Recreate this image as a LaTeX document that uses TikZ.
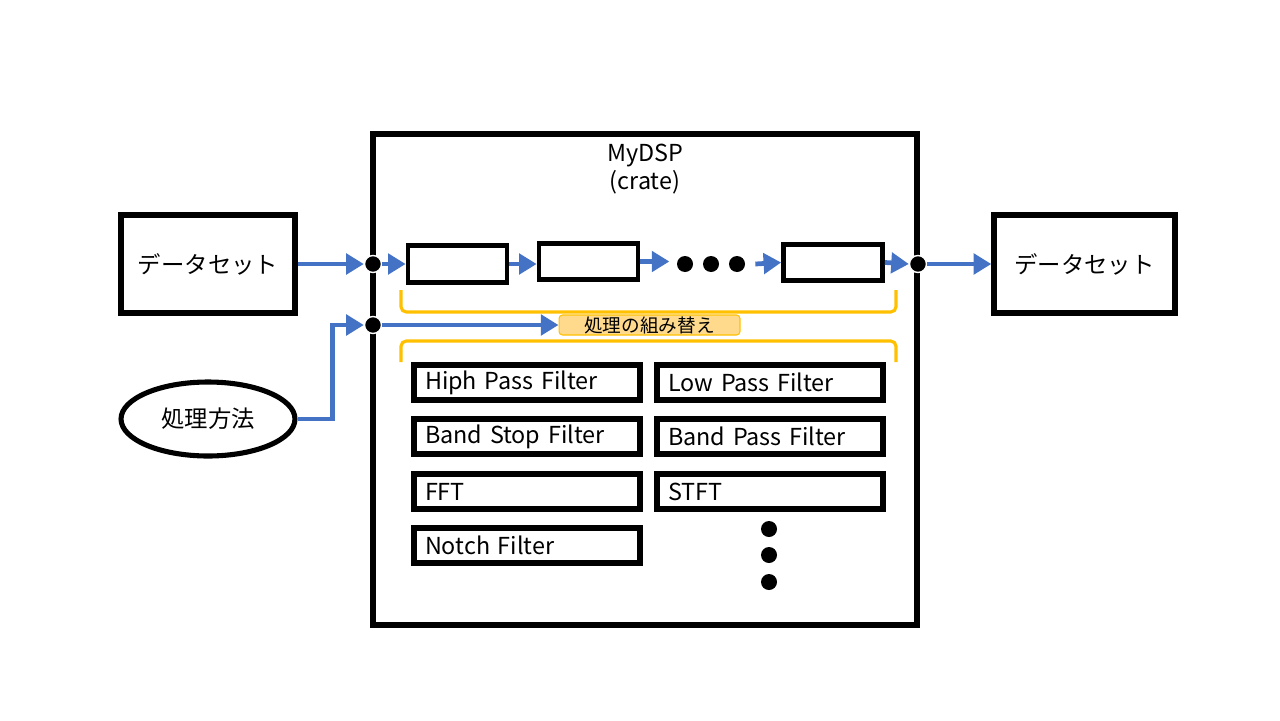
\documentclass[tikz,border=0pt]{standalone}
\usepackage{fontspec}
\setmainfont{Noto Sans CJK JP}
\usepackage{xcolor}
\usepackage{tikz}
\usetikzlibrary{arrows.meta,shapes.geometric}
\definecolor{flowblue}{HTML}{4472C4}
\definecolor{bracketgold}{HTML}{FFC000}
\definecolor{tagfill}{HTML}{FFDA8C}
\tikzset{
  bigbox/.style={draw, line width=3.1pt, minimum width=#1, minimum height=1.96cm, inner sep=0pt, font=\fontsize{13.3}{16}\selectfont},
  stage/.style={draw, line width=2.7pt, minimum width=1.98cm, minimum height=0.73cm, inner sep=0pt},
  filt/.style={draw, line width=3.1pt, text width=4.08cm, inner xsep=0.22cm, inner ysep=0pt, minimum height=0.70cm, align=left, font=\fontsize{13.3}{16}\selectfont},
  joint/.style={circle, fill=black, draw=white, line width=0.8pt, minimum size=0.34cm, inner sep=0pt},
  bullet/.style={circle, fill=black, minimum size=0.32cm, inner sep=0pt},
  flow/.style={flowblue, line width=2.7pt, -{Triangle[length=10pt,width=11.5pt]}},
  bracket/.style={bracketgold, line width=1.8pt, rounded corners=3pt}
}
\begin{document}
\begin{tikzpicture}[x=0.02cm,y=-0.02cm]
\useasboundingbox (0,0) rectangle (1280,720);
\node[draw, line width=3.1pt, minimum width=10.88cm, minimum height=9.82cm] (DSP) at (645,379.5){};
\node[align=center, font=\fontsize{13.3}{16}\selectfont] (Title) at (645,169){MyDSP\\(crate)};
\node[bigbox=3.48cm] (SetIn) at (208,264){データセット};
\node[bigbox=3.62cm] (SetOut) at (1084.5,264){データセット};
\node[ellipse, draw, line width=2.9pt, minimum width=3.48cm, minimum height=1.48cm, font=\fontsize{13.3}{16}\selectfont] (Method) at (208,419){処理方法};
\node[joint] (J1) at (373,264){};
\node[joint] (J2) at (373,325){};
\node[joint] (J3) at (918,264){};
\node[stage] (S1) at (457.5,264){};
\node[stage] (S2) at (588.5,261.5){};
\node[stage] (S3) at (833,262.5){};
\foreach \x/\n in {685/a,711/b,737/c} \node[bullet] (H\n) at (\x,264){};
\foreach \y/\n in {529/a,555/b,582/c} \node[bullet] (V\n) at (769,\y){};
\node[draw=bracketgold, line width=0.6pt, fill=tagfill, rounded corners=2pt, minimum width=3.62cm, minimum height=0.40cm, inner sep=0pt, font=\fontsize{10.6}{12}\selectfont] (Swap) at (649.5,325){処理の組み替え};
% chain
\draw[flow] (SetIn.east |- J1) -- (J1.west);
\draw[flow] (J1.east) -- (S1.west);
\draw[flow] (S1.east) -- (S2.west |- S1.east);
\draw[flow] (S2.east) -- ++(29,0) coordinate (HEnd) ;
\draw[flow] (Hc.east) ++(10,0) coordinate (HStart) -- (S3.west);
\draw[flow] (S3.east) -- (J3.west);
\draw[flow] (J3.east) -- (SetOut.west);
\draw[flow] (Method.east) -- ++(35,0) |- (J2.west);
\draw[flow] (J2.east) -- (Swap.west);
% brackets
\draw[bracket] (401,290) -- (401,312) -- (896,312) -- (896,290);
\draw[bracket] (401,362) -- (401,341) -- (896,341) -- (896,362);
% filters
\node[filt] (HPF) at (527,382.5){Hiph Pass Filter};
\node[filt] (LPF) at (770,382.5){Low Pass Filter};
\node[filt] (BSF) at (527,436.5){Band Stop Filter};
\node[filt] (BPF) at (770,436.5){Band Pass Filter};
\node[filt] (FFT) at (527,491.5){FFT};
\node[filt] (STFT) at (770,491.5){STFT};
\node[filt] (Notch) at (527,545.5){Notch Filter};
\end{tikzpicture}
\end{document}
